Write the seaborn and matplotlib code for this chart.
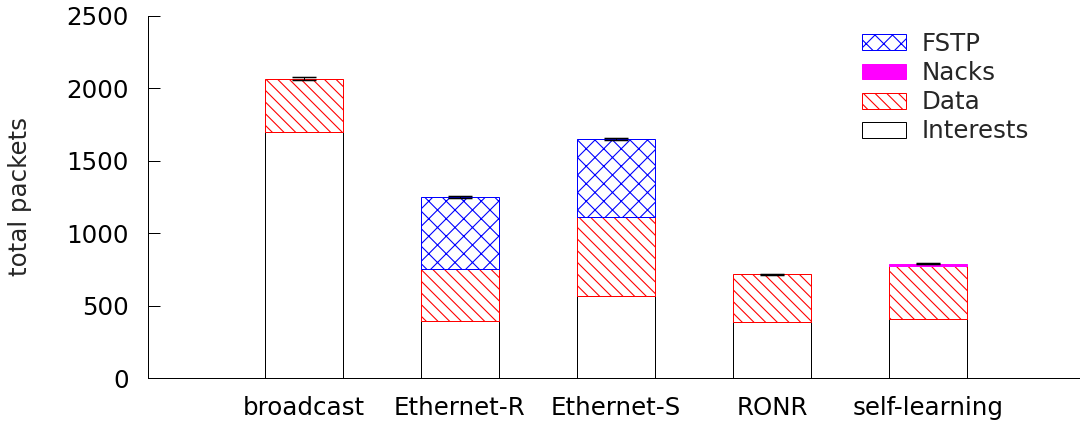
import numpy as np
import pandas as pd
import matplotlib
matplotlib.use("Agg")
import matplotlib.pyplot as plt
import seaborn as sns

categories = ["broadcast", "Ethernet-R", "Ethernet-S", "RONR", "self-learning"]
interests = [1699, 394, 566, 387, 407]
data_pkts = [366, 359, 546, 331, 366]
nacks = [0, 0, 0, 0, 18]
fstp = [0, 497, 539, 0, 0]
errors = [10, 4, 8, 3, 4]
yticks = [0, 500, 1000, 1500, 2000, 2500]

DPI = 210
PX = 72 / DPI
sns.set_style("ticks")
plt.rcParams['font.family'] = ['DejaVu Sans']
plt.rcParams['hatch.linewidth'] = 1.1 * PX
fs = 24.5 * PX

fig = plt.figure(figsize=(1080 / DPI, 426 / DPI), dpi=DPI)
ax = fig.add_axes([148 / 1080, (426 - 378.3) / 426, 936 / 1080, (378.3 - 15.7) / 426])

df = pd.DataFrame({"category": categories, "Interests": interests, "Data": data_pkts,
                   "Nacks": nacks, "FSTP": fstp})
b1 = np.array(interests, dtype=float)
b2 = b1 + np.array(data_pkts)
b3 = b2 + np.array(nacks)
tot = b3 + np.array(fstp)

common = dict(x="category", order=categories, width=0.5, linewidth=PX, ax=ax,
              saturation=1, errorbar=None)
sns.barplot(data=df, y="Interests", color="white", edgecolor="black",
            label="Interests", **common)
sns.barplot(data=df, y="Data", color="white", edgecolor="red", hatch="\\" * 6,
            bottom=b1, label="Data", **common)
sns.barplot(data=df, y="Nacks", color="magenta", edgecolor="magenta",
            bottom=b2, label="Nacks", **common)
sns.barplot(data=df, y="FSTP", color="white", edgecolor="blue", hatch="x" * 4,
            bottom=b3, label="FSTP", **common)

# hide zero-height segments so their edges don't draw lines on top of stacks;
# keep a visible patch of each series as its legend handle
hd = {}
for cont in ax.containers:
    for p in cont.patches:
        if p.get_height() == 0:
            p.set_visible(False)
        elif cont.get_label() not in hd:
            hd[cont.get_label()] = p

ax.errorbar(np.arange(len(categories)), tot, yerr=errors, fmt="none",
            ecolor="black", elinewidth=PX, capsize=12 * PX, capthick=1.5 * PX)

ax.set_xlim(-1, 5)
ax.set_ylim(0, 2500)
ax.set_yticks(yticks)
ax.set_xlabel("")
ax.set_ylabel("total packets", fontsize=fs)
ax.yaxis.set_label_coords((32 - 148) / 936, 0.5)

ax.tick_params(axis="y", direction="in", length=12 * PX, width=PX, pad=6.5,
               labelsize=fs, colors="black")
ax.tick_params(axis="x", length=0, pad=6, labelsize=fs, colors="black")
for s in ["top", "right"]:
    ax.spines[s].set_visible(False)
for s in ["left", "bottom"]:
    ax.spines[s].set_linewidth(PX)
    ax.spines[s].set_color("black")

order = ["FSTP", "Nacks", "Data", "Interests"]
ax.legend([hd[k] for k in order], order, loc="upper left",
          bbox_to_anchor=(862 / 1080, (426 - 32) / 426), bbox_transform=fig.transFigure,
          frameon=False, fontsize=fs, borderpad=0, borderaxespad=0,
          handlelength=44 / 24.5, handleheight=15 / 24.5, handletextpad=16 / 24.5,
          labelspacing=0.21)

fig.savefig("out.png", dpi=DPI)
